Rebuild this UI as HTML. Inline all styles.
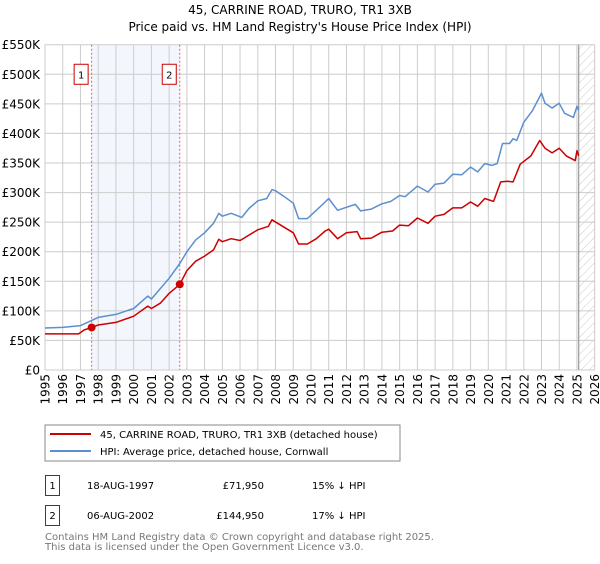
<!DOCTYPE html>
<html><head><meta charset="utf-8"><style>
body{margin:0;background:#fff;width:600px;height:560px;overflow:hidden;font-family:"DejaVu Sans","Liberation Sans",sans-serif}
svg text{font-family:"DejaVu Sans","Liberation Sans",sans-serif}
</style></head><body>
<svg id="c" width="600" height="560">
<defs><pattern id="hatch" width="6" height="6" patternUnits="userSpaceOnUse" patternTransform="rotate(45)"><line x1="0" y1="0" x2="0" y2="6" stroke="#bbb" stroke-width="0.8"/></pattern></defs>
<text x="300" y="14" text-anchor="middle" font-size="12">45, CARRINE ROAD, TRURO, TR1 3XB</text>
<text x="300" y="31" text-anchor="middle" font-size="12">Price paid vs. HM Land Registry's House Price Index (HPI)</text>
<g id="grid"></g><g id="marks"></g><g id="axes"></g>
<rect x="45" y="425" width="355" height="36" fill="#fff" stroke="#888"/>
<line x1="50" y1="434" x2="91" y2="434" stroke="#cc0000" stroke-width="2"/>
<text x="100" y="438" font-size="10">45, CARRINE ROAD, TRURO, TR1 3XB (detached house)</text>
<line x1="50" y1="451" x2="91" y2="451" stroke="#5b8fd0" stroke-width="2"/>
<text x="100" y="455" font-size="10">HPI: Average price, detached house, Cornwall</text>
<g font-size="10">
<rect x="45.5" y="475.5" width="14" height="20" fill="none" stroke="#cc0000"/>
<text x="52.5" y="489" text-anchor="middle">1</text>
<text x="87" y="489">18-AUG-1997</text>
<text x="264" y="489" text-anchor="end">£71,950</text>
<text x="312" y="489">15% ↓ HPI</text>
<rect x="45.5" y="505.5" width="14" height="20" fill="none" stroke="#cc0000"/>
<text x="52.5" y="519" text-anchor="middle">2</text>
<text x="87" y="519">06-AUG-2002</text>
<text x="264" y="519" text-anchor="end">£144,950</text>
<text x="312" y="519">17% ↓ HPI</text>
</g>
<text x="45" y="540" font-size="10" fill="#777">Contains HM Land Registry data © Crown copyright and database right 2025.</text>
<text x="45" y="550" font-size="10" fill="#777">This data is licensed under the Open Government Licence v3.0.</text>
</svg>
<script>
const yTicks=[0,50,100,150,200,250,300,350,400,450,500,550];
const yearTicks=[1995,1996,1997,1998,1999,2000,2001,2002,2003,2004,2005,2006,2007,2008,2009,2010,2011,2012,2013,2014,2015,2016,2017,2018,2019,2020,2021,2022,2023,2024,2025,2026];
const saleYears=[1997.63,2002.6];
const salePrices=[71.95,144.95];
const saleLabels=["1","2"];
const hpiYears=[1995,1996,1997,1998,1999,2000,2000.8,2001,2002,2002.6,2003,2003.5,2004,2004.5,2004.8,2005,2005.5,2006.1,2006.5,2007,2007.5,2007.8,2008,2008.5,2009,2009.3,2009.8,2010.3,2010.8,2011,2011.5,2012,2012.5,2012.8,2013.4,2014,2014.5,2015,2015.3,2016,2016.6,2017,2017.5,2018,2018.5,2019,2019.4,2019.8,2020.2,2020.5,2020.8,2021.2,2021.4,2021.6,2022,2022.5,2023,2023.2,2023.6,2024,2024.3,2024.8,2025,2025.1];
const hpiValues=[71,72,75,89,94,104,125,120,155,180,200,220,232,248,265,260,265,258,273,286,290,305,303,293,282,256,256,270,284,290,270,275,280,269,272,281,285,295,293,311,301,314,316,331,330,343,335,349,346,349,383,383,391,388,419,439,468,451,443,451,434,427,446,439];
const propYears=[1995,1996.9,1997.2,1997.63,1998,1999,2000,2000.8,2001,2001.5,2002,2002.6,2003,2003.5,2004,2004.5,2004.8,2005,2005.5,2006,2006.5,2007,2007.6,2007.8,2008.4,2009,2009.3,2009.8,2010.3,2010.8,2011,2011.5,2012,2012.6,2012.8,2013.4,2014,2014.6,2015,2015.5,2016,2016.6,2017,2017.5,2018,2018.5,2019,2019.4,2019.8,2020.3,2020.7,2021.1,2021.4,2021.8,2022.4,2022.9,2023.2,2023.6,2024,2024.4,2024.9,2025,2025.1];
const propValues=[61,61,67.6,71.95,76,80.5,91,108,104,113,129.5,144.95,168,184,192.5,203,221,217,222,219,228,237,243,254,243,232,213,213,222,235,238,222,232,234,222,223,233,235,245,244,257,248,260,263,274,274,284,277,290,285,318,319,318,348,362,388,375,367,375,362,354,371,362];
const X0=45,X1=594.7,Y0=370,Y1=44.7,Ymax=550,xa=1995,xb=2026;
const sx=v=>X0+(v-xa)/(xb-xa)*(X1-X0);
const sy=v=>Y0-(v/Ymax)*(Y0-Y1);
const NS="http://www.w3.org/2000/svg";
function mk(tag,attrs,parent){const e=document.createElementNS(NS,tag);for(const k in attrs)e.setAttribute(k,attrs[k]);parent.appendChild(e);return e;}
const grid=document.getElementById('grid'),marks=document.getElementById('marks'),axes=document.getElementById('axes');
// shaded ownership span
let r=mk('rect',{x:sx(saleYears[0]),y:Y1,width:sx(saleYears[1])-sx(saleYears[0]),height:Y0-Y1,fill:'#eef3fc',opacity:0.7},grid);


// hatch future
r=mk('rect',{x:sx(2025.1),y:Y1,width:X1-sx(2025.1),height:Y0-Y1,fill:'url(#hatch)'},grid);


yTicks.forEach(t=>{
 const l=mk('line',{x1:X0,x2:X1,y1:sy(t),y2:sy(t),stroke:'#ccc','stroke-width':1},grid);
 
 
 const tx=mk('text',{x:40,y:sy(t)+4.5,'text-anchor':'end','font-size':12},axes);
 tx.textContent=t===0?'£0':'£'+t+'K';
 
 
});
yearTicks.forEach(t=>{
 const l=mk('line',{x1:sx(t),x2:sx(t),y1:Y1,y2:Y0,stroke:'#ccc','stroke-width':1},grid);
 
 
 const tx=mk('text',{x:0,y:0,'text-anchor':'end','font-size':12,transform:`translate(${sx(t)+4.5},374) rotate(-90)`},axes);
 tx.textContent=t;
 
 
});
let vl=mk('line',{x1:sx(2025.1),x2:sx(2025.1),y1:Y1,y2:Y0,stroke:'#888','stroke-width':1},grid);


saleYears.forEach((y,i)=>{
 const l=mk('line',{x1:sx(y),x2:sx(y),y1:Y1,y2:Y0,stroke:'#e06060','stroke-width':1,'stroke-dasharray':'2,2'},marks);
 
 
 const b=mk('rect',{x:sx(y)-17.5,y:sy(500)-10,width:14,height:20,fill:'#fff',stroke:'#cc0000'},marks);
 
 
 const t=mk('text',{x:sx(y)-10.5,y:sy(500)+4,'text-anchor':'middle','font-size':10},marks);
 t.textContent=saleLabels[i];
 
 
});
function line(xs,ys,color,name){
 const p=mk('polyline',{points:xs.map((x,i)=>sx(x).toFixed(1)+','+sy(ys[i]).toFixed(1)).join(' '),fill:'none',stroke:color,'stroke-width':1.5,'stroke-linejoin':'round'},marks);
 
 
}
line(hpiYears,hpiValues,'#5b8fd0','hpi-line');
line(propYears,propValues,'#cc0000','property-line');
saleYears.forEach((y,i)=>{
 const c=mk('circle',{cx:sx(y),cy:sy(salePrices[i]),r:4,fill:'#cc0000'},marks);
 
 
});
</script>
</body></html>
